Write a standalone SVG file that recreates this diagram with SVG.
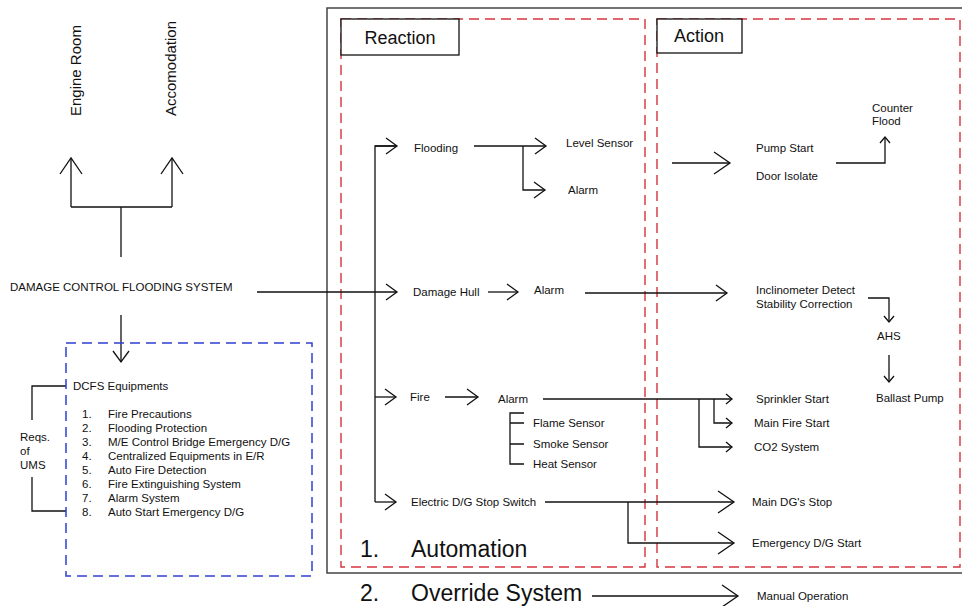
<svg xmlns="http://www.w3.org/2000/svg" width="962" height="606" viewBox="0 0 962 606">
<style>
text{font-family:"Liberation Sans",Arial,sans-serif;fill:#111;font-size:11.5px}
.big{font-size:23px}
.hd{font-size:18px}
.side{font-size:15px}
.ln{fill:none;stroke:#111;stroke-width:1.3}
.red{fill:none;stroke:#d3343c;stroke-width:1.4;stroke-dasharray:10 6}
.blue{fill:none;stroke:#2f3fd0;stroke-width:1.5;stroke-dasharray:10 6}
.box{fill:#fff;stroke:#111;stroke-width:1.3}
</style>
<defs>
<marker id="aL" markerUnits="userSpaceOnUse" viewBox="-18 -12 20 24" refX="0" refY="0" markerWidth="20" markerHeight="24" orient="auto" overflow="visible"><path d="M-16,-11 L0,0 L-16,11" fill="none" stroke="#111" stroke-width="1.3"/></marker>
<marker id="aM" markerUnits="userSpaceOnUse" viewBox="-14 -10 16 20" refX="0" refY="0" markerWidth="16" markerHeight="20" orient="auto" overflow="visible"><path d="M-11,-8 L0,0 L-11,8" fill="none" stroke="#111" stroke-width="1.3"/></marker>
<marker id="aS" markerUnits="userSpaceOnUse" viewBox="-8 -7 10 14" refX="0" refY="0" markerWidth="10" markerHeight="14" orient="auto" overflow="visible"><path d="M-6,-5 L0,0 L-6,5" fill="none" stroke="#111" stroke-width="1.3"/></marker>
</defs>

<rect x="327" y="8" width="640" height="565" fill="none" stroke="#444" stroke-width="1.5"/>

<g id="reaction-panel">
<rect class="red" x="341" y="19" width="304" height="548"/>
<rect class="box" x="341" y="19" width="118" height="36"/>
<text class="hd" x="400" y="44" text-anchor="middle">Reaction</text>
</g>
<g id="action-panel">
<rect class="red" x="657" y="19" width="303" height="548"/>
<rect class="box" x="657" y="19" width="85" height="34"/>
<text class="hd" x="699" y="42" text-anchor="middle">Action</text>
</g>

<g id="connectors">
<path class="ln" d="M121,257 V207 M71,207 H172 M71,207 V158" marker-end="url(#aL)"/>
<path class="ln" d="M172,207 V158" marker-end="url(#aL)"/>
<path class="ln" d="M121,315 V362" marker-end="url(#aM)"/>
<path class="ln" d="M257,292 H397" marker-end="url(#aM)"/>
<path class="ln" d="M66,386 H32 V420 M32,477 V511 H66"/>
<path class="ln" d="M397,146 H375 V502"/>
<path class="ln" d="M375,146 H397" marker-end="url(#aM)"/>
<path class="ln" d="M375,397 H396" marker-end="url(#aM)"/>
<path class="ln" d="M375,502 H396" marker-end="url(#aM)"/>
<path class="ln" d="M474,146 H546" marker-end="url(#aM)"/>
<path class="ln" d="M523,146 V190 H545" marker-end="url(#aM)"/>
<path class="ln" d="M488,292 H518" marker-end="url(#aM)"/>
<path class="ln" d="M585,293 H727" marker-end="url(#aM)"/>
<path class="ln" d="M445,397 H478" marker-end="url(#aM)"/>
<path class="ln" d="M524,413 H510 V464 H524 M510,444 H524 M510,423 H524"/>
<path class="ln" d="M543,399 H732" marker-end="url(#aS)"/>
<path class="ln" d="M714,399 V423 H732" marker-end="url(#aS)"/>
<path class="ln" d="M699,399 V447 H732" marker-end="url(#aS)"/>
<path class="ln" d="M545,502 H734" marker-end="url(#aL)"/>
<path class="ln" d="M628,502 V543 H734" marker-end="url(#aL)"/>
<path class="ln" d="M592,596 H738" marker-end="url(#aL)"/>
<path class="ln" d="M672,163 H730" marker-end="url(#aL)"/>
<path class="ln" d="M836,163 H885 V137" marker-end="url(#aS)"/>
<path class="ln" d="M868,298 H889 V322" marker-end="url(#aS)"/>
<path class="ln" d="M889,355 V382" marker-end="url(#aS)"/>
</g>

<g id="left">
<text class="side" transform="translate(81,116) rotate(-90)">Engine Room</text>
<text class="side" transform="translate(176,116) rotate(-90)">Accomodation</text>
<text x="10" y="291">DAMAGE CONTROL FLOODING SYSTEM</text>
</g>

<g id="dcfs-equipments">
<rect class="blue" x="66" y="343" width="246" height="233"/>
<text x="73" y="390">DCFS Equipments</text>
<text x="82" y="418">1.</text><text x="108" y="418">Fire Precautions</text>
<text x="82" y="432">2.</text><text x="108" y="432">Flooding Protection</text>
<text x="82" y="446">3.</text><text x="108" y="446">M/E Control Bridge Emergency D/G</text>
<text x="82" y="460">4.</text><text x="108" y="460">Centralized Equipments in E/R</text>
<text x="82" y="474">5.</text><text x="108" y="474">Auto Fire Detection</text>
<text x="82" y="488">6.</text><text x="108" y="488">Fire Extinguishing System</text>
<text x="82" y="502">7.</text><text x="108" y="502">Alarm System</text>
<text x="82" y="516">8.</text><text x="108" y="516">Auto Start Emergency D/G</text>
</g>
<g id="reqs-ums">
<text x="20" y="441">Reqs.</text>
<text x="20" y="455">of</text>
<text x="20" y="469">UMS</text>
</g>

<g id="reaction-nodes">
<text x="414" y="152">Flooding</text>
<text x="566" y="147">Level Sensor</text>
<text x="568" y="194">Alarm</text>
<text x="413" y="296">Damage Hull</text>
<text x="534" y="294">Alarm</text>
<text x="410" y="401">Fire</text>
<text x="498" y="403">Alarm</text>
<text x="533" y="427">Flame Sensor</text>
<text x="533" y="448">Smoke Sensor</text>
<text x="533" y="468">Heat Sensor</text>
<text x="411" y="506">Electric D/G Stop Switch</text>
<text class="big" x="360" y="557">1.</text>
<text class="big" x="411" y="557">Automation</text>
</g>

<g id="action-nodes">
<text x="756" y="152">Pump Start</text>
<text x="756" y="180">Door Isolate</text>
<text x="872" y="112">Counter</text>
<text x="872" y="125">Flood</text>
<text x="756" y="294">Inclinometer Detect</text>
<text x="756" y="308">Stability Correction</text>
<text x="877" y="340">AHS</text>
<text x="876" y="402">Ballast Pump</text>
<text x="756" y="403">Sprinkler Start</text>
<text x="754" y="427">Main Fire Start</text>
<text x="754" y="451">CO2 System</text>
<text x="752" y="506">Main DG's Stop</text>
<text x="752" y="547">Emergency D/G Start</text>
</g>

<g id="override">
<text class="big" x="360" y="601">2.</text>
<text class="big" x="411" y="601">Override System</text>
<text x="757" y="600">Manual Operation</text>
</g>
</svg>
